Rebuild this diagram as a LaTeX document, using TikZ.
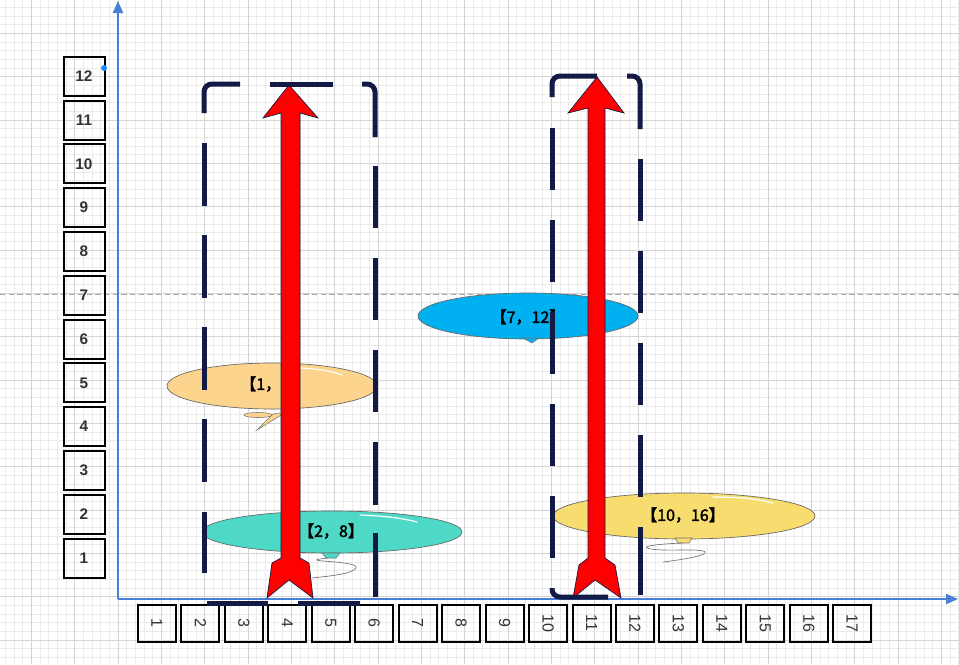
\documentclass[tikz,border=0pt]{standalone}
\usepackage{fontspec}
\setmainfont{Liberation Sans}
\newfontfamily\cjk[AutoFakeBold=2.2]{Noto Sans CJK SC}
\usetikzlibrary{shapes.geometric,arrows.meta}
\definecolor{gridminor}{HTML}{EBEBEB}
\definecolor{gridmajor}{HTML}{D5D5D5}
\definecolor{axisblue}{HTML}{4A7FD6}
\definecolor{navy}{HTML}{131A45}
\definecolor{balorange}{HTML}{FDD48E}
\definecolor{balteal}{HTML}{4DD9C6}
\definecolor{balblue}{HTML}{00B0F0}
\definecolor{balyellow}{HTML}{F7DC6F}
\definecolor{labelgray}{HTML}{333333}
\definecolor{dotblue}{HTML}{1A8CFF}
\definecolor{arrowred}{HTML}{FF0000}
\begin{document}
\begin{tikzpicture}[x=0.75pt,y=-0.75pt,
  minorgrid/.style={gridminor,line width=0.6pt},
  majorgrid/.style={gridmajor,line width=0.7pt},
  guide/.style={black!35,line width=0.5pt,dash pattern=on 4pt off 2.5pt},
  axisline/.style={axisblue,line width=1.6pt,-{Triangle[length=9pt,width=7.5pt]}},
  ybox/.style={draw=black,line width=1.5pt,minimum width=30.75pt,minimum height=29.25pt,inner sep=0pt,
    font=\bfseries\fontsize{11.5}{13}\selectfont,text=labelgray},
  xbox/.style={draw=black,line width=1.5pt,minimum width=28.5pt,minimum height=27.75pt,inner sep=0pt},
  xlab/.style={rotate=-90,inner sep=0pt,font=\fontsize{12}{14}\selectfont,text=labelgray},
  balloon/.style={ellipse,draw=black!60,line width=0.5pt,inner sep=0pt},
  baltext/.style={inner sep=0pt,font=\cjk\bfseries\fontsize{12}{14}\selectfont,text=black},
  knotline/.style={draw=black!55,line width=0.4pt},
  stringline/.style={black!55,line width=0.5pt},
  shine/.style={white,line width=0.9pt,line cap=round},
  bigarrow/.style={fill=arrowred,draw=navy,line width=0.5pt,line join=miter},
  rectline/.style={navy,line width=3.75pt,rounded corners=6pt}
]
\useasboundingbox (0,0) rectangle (959,664);
\fill[white] (0,0) rectangle (959,664);
% grid
\foreach \i in {-3,...,107} {
  \draw[minorgrid] ({31.333+8.6667*\i},0) -- ({31.333+8.6667*\i},664);
}
\foreach \i in {-3,...,73} {
  \draw[minorgrid] (0,{33.333+8.6667*\i}) -- (959,{33.333+8.6667*\i});
}
\foreach \i in {0,...,21} {
  \draw[majorgrid] ({31.333+43.333*\i},0) -- ({31.333+43.333*\i},664);
}
\foreach \i in {0,...,14} {
  \draw[majorgrid] (0,{33.333+43.333*\i}) -- (959,{33.333+43.333*\i});
}
\draw[guide] (0,294) -- (959,294);
% axes
\coordinate (O) at (118,599);
\coordinate (Ytop) at (118,1);
\coordinate (Xend) at (958,599);
\draw[axisline] (O) -- (Ytop);
\draw[axisline] (O) -- (Xend);
% y labels
\foreach \k in {1,...,12} {
  \node[ybox] (y\k) at (84,{558-(\k-1)*43.8}) {\k};
}
\node[circle,fill=dotblue,inner sep=0pt,minimum size=4.5pt] (dot) at (104,68) {};
% x labels
\foreach \k in {1,...,17} {
  \node[xbox] (x\k) at ({157+(\k-1)*43.45},623) {};
  \node[xlab] (xl\k) at (x\k.center) {\k};
}
% balloons
\node[balloon,fill=balorange,minimum width=157.5pt,minimum height=34.5pt] (b1) at (272,386) {};
\fill[balorange,knotline] (258,415) ellipse [x radius=14, y radius=2.5];
\filldraw[fill=balorange,knotline] (257,430) -- (273,414) -- (286,412) -- cycle;
\draw[shine] (300,368) .. controls (320,369) and (332,371) .. (342,375);
\node[baltext,anchor=west] (t1) at (240,384) {【1，};

\node[balloon,fill=balteal,minimum width=195pt,minimum height=31.5pt] (b2) at (332,532) {};
\filldraw[fill=balteal,knotline] (322,553) -- (340,553) -- (336,558) -- (326,558) -- cycle;
\draw[stringline] (328,558) .. controls (290,562) and (360,560) .. (356,568) .. controls (352,574) and (330,576) .. (312,578);
\draw[shine] (360,515) .. controls (385,516) and (402,518) .. (417,522);
\node[baltext] (t2) at (331,531) {【2，8】};

\node[balloon,fill=balblue,minimum width=165pt,minimum height=34.5pt] (b3) at (528,316) {};
\filldraw[fill=balblue,knotline] (523,338) -- (539,338) -- (532,343) -- cycle;
\node[baltext] (t3) at (528,317) {【7，12】};

\node[balloon,fill=balyellow,minimum width=196.5pt,minimum height=34.5pt] (b4) at (684,516) {};
\filldraw[fill=balyellow,knotline] (675,538) -- (692,538) -- (689,543) -- (678,543) -- cycle;
\draw[stringline] (683,543) .. controls (630,545) and (640,551) .. (680,550) .. controls (720,549) and (712,556) .. (663,562);
\draw[shine] (713,497) .. controls (740,497) and (758,499) .. (773,503);
\node[baltext] (t4) at (683,515) {【10，16】};
% red arrows
\filldraw[bigarrow] (289,85) -- (318,118) -- (300,113) -- (300,558) -- (309,563) -- (313,598) -- (289,580)
  -- (267,598) -- (272,563) -- (281,558) -- (281,113) -- (263,118) -- cycle;
\filldraw[bigarrow] (597,77) -- (624,113) -- (605,108) -- (605,558) -- (615,565) -- (621,598) -- (595,580)
  -- (573,598) -- (579,565) -- (588,558) -- (588,108) -- (568,113) -- cycle;
% left dashed rectangle
\draw[rectline] (204,113) -- (204,84) -- (240,84);
\draw[rectline] (270,84) -- (333,84);
\draw[rectline] (362,84) -- (375,84) -- (375,137);
\foreach \a/\b in {143/206,235/298,327/390,419/482,512/573} {
  \draw[rectline] (204,\a) -- (204,\b);
}
\foreach \a/\b in {166/228,258/320,350/412,442/505,533/597} {
  \draw[rectline] (375,\a) -- (375,\b);
}
\draw[rectline] (207,603) -- (268,603);
\draw[rectline] (298,603) -- (360,603);
% right dashed rectangle
\draw[rectline] (552,97) -- (552,76) -- (597,76);
\draw[rectline] (627,76) -- (640,76) -- (640,129);
\foreach \a/\b in {128/190,220/282,312/374,404/466,496/558} {
  \draw[rectline] (552,\a) -- (552,\b);
}
\foreach \a/\b in {159/221,251/313,343/405,435/497,527/595} {
  \draw[rectline] (640,\a) -- (640,\b);
}
\draw[rectline] (552,588) -- (552,597) -- (608,597);
\end{tikzpicture}
\end{document}
